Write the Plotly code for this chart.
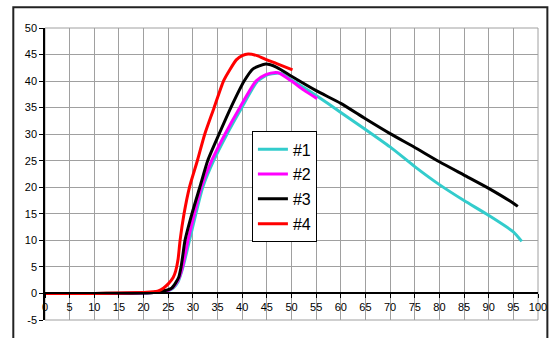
import plotly.graph_objects as go

# Series data
x1 = [0, 5, 10, 15, 20, 22, 24, 25, 26, 27, 28.0, 29.3, 30.6, 32.0, 34.2, 36.9, 39.9, 43.1, 45.2, 47, 48, 50, 52.5, 55, 60, 65, 70, 75, 80, 85, 90, 95, 96.7]
y1 = [0, 0, 0, 0, 0.1, 0.2, 0.3, 0.5, 1.0, 2.2, 5, 10, 15, 20, 25, 30, 35, 40, 41.2, 41.5, 41.4, 40.2, 38.8, 37.3, 34.1, 30.9, 27.6, 23.9, 20.5, 17.5, 14.7, 11.6, 9.8]

x2 = [0, 5, 10, 15, 20, 22, 24, 25, 26, 27, 27.9, 29.0, 30.3, 31.7, 33.8, 36.5, 39.5, 42.8, 44.8, 46.8, 47.5, 50, 52.5, 55.2]
y2 = [0, 0, 0, 0, 0.1, 0.2, 0.4, 0.6, 1.2, 2.5, 5, 10, 15, 20, 25, 30, 35, 40, 41.2, 41.6, 41.5, 40.0, 38.3, 36.7]

x3 = [0, 5, 10, 15, 20, 22, 24, 25, 25.7, 26.5, 27.1, 27.6, 28.0, 28.4, 29.8, 31.4, 33.0, 35.3, 37.7, 40.4, 42.2, 44.8, 47, 50, 55, 60, 65, 70, 75, 80, 85, 90, 95, 95.9]
y3 = [0, 0, 0, 0.05, 0.1, 0.2, 0.5, 0.7, 1, 2, 3, 5, 7.5, 10, 15, 20, 25, 30, 35, 40, 42.3, 43.2, 42.6, 40.9, 38.2, 35.8, 32.9, 30.1, 27.5, 24.8, 22.3, 19.8, 17.0, 16.4]

x4 = [0, 5, 10, 15, 20, 22, 23, 24, 25, 26, 26.5, 27, 27.4, 28.2, 29.3, 30.9, 32.4, 34.3, 36.2, 37.4, 38.8, 40, 41.2, 43, 45, 47, 50.2]
y4 = [0, 0, 0, 0.1, 0.2, 0.3, 0.5, 1.0, 1.8, 3.0, 4.2, 6.5, 10, 15, 20, 25, 30, 35, 40, 42, 44, 44.8, 45.1, 44.8, 44.0, 43.3, 42.1]

names = ["#1", "#2", "#3", "#4"]
colors = ["#33CCCC", "#FF00FF", "#000000", "#FF0000"]
xticks = list(range(0, 101, 5))
yticks = list(range(-5, 51, 5))

fig = go.Figure()
for i, (xs, ys) in enumerate([(x1, y1), (x2, y2), (x3, y3), (x4, y4)]):
    fig.add_trace(go.Scatter(x=xs, y=ys, mode="lines", name=names[i],
                             line=dict(color=colors[i], width=3, shape="spline", smoothing=0.6),
                             legendgroup=names[i]))

fig.update_layout(
    width=559, height=338,
    margin=dict(l=45, r=16, t=28, b=16),
    paper_bgcolor="white", plot_bgcolor="white",
    font=dict(family="Liberation Sans, Arial, sans-serif", size=11, color="black"),
    showlegend=True,
    legend=dict(x=0.4197, y=0.646, xanchor="left", yanchor="top",
                bgcolor="white", bordercolor="black", borderwidth=1,
                font=dict(size=16), tracegroupgap=1, itemwidth=30),
    xaxis=dict(range=[0, 100], tickvals=xticks, ticktext=[str(v) for v in xticks],
               showgrid=True, gridcolor="#A0A0A0", gridwidth=1,
               zeroline=False, showline=True, linecolor="black", linewidth=1.5,
               anchor="free", position=5 / 55, ticks="outside", ticklen=4,
               tickcolor="black", tickfont=dict(size=11)),
    yaxis=dict(range=[-5, 50], tickvals=yticks, ticktext=[str(v) for v in yticks],
               showgrid=True, gridcolor="#A0A0A0", gridwidth=1,
               zeroline=False, showline=True, linecolor="black", linewidth=1.5,
               ticks="outside", ticklen=4, tickcolor="black", tickfont=dict(size=11)),
    shapes=[
        dict(type="rect", xref="paper", yref="paper", x0=0, x1=1, y0=0, y1=1,
             line=dict(color="#A0A0A0", width=1), layer="below"),
        dict(type="rect", xref="paper", yref="paper", x0=-0.0643, x1=1.019,
             y0=-0.2, y1=1.0714, line=dict(color="#222222", width=2), layer="below"),
    ],
)

fig.write_html("out.html", config={"displayModeBar": False},
               post_script="document.body.style.margin='0';document.body.style.overflow='hidden';")
